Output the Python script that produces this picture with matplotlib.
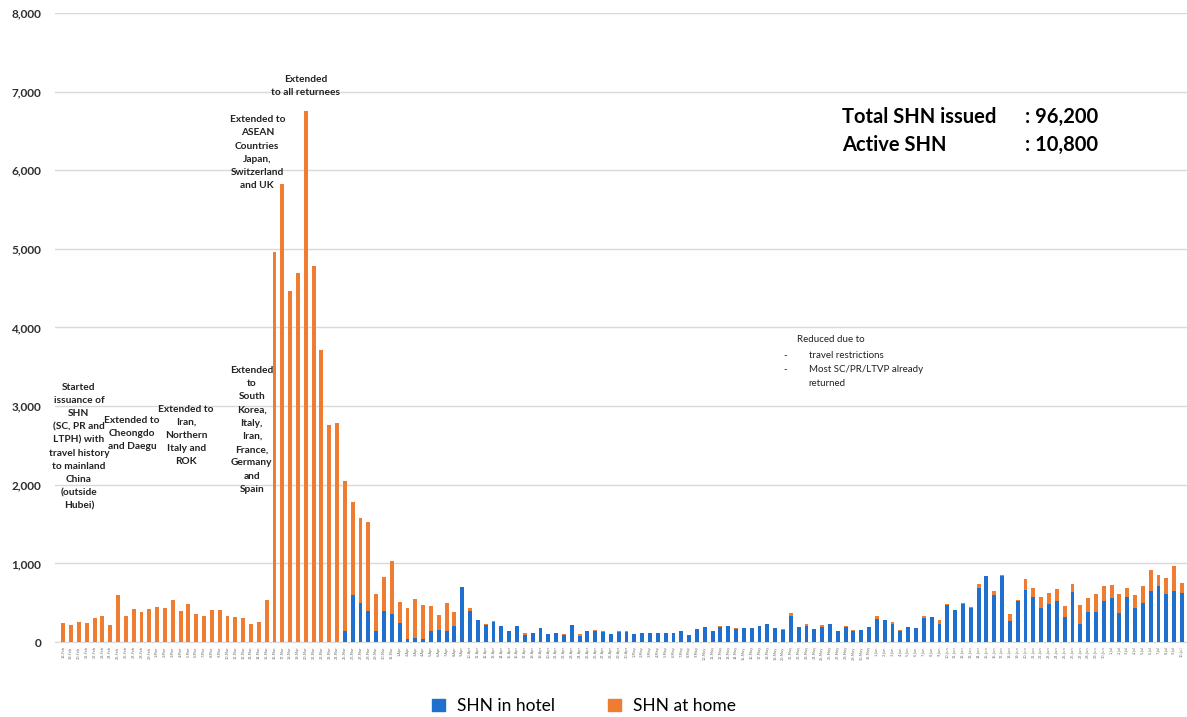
import numpy as np
import pandas as pd
import matplotlib
matplotlib.use("Agg")
import matplotlib.pyplot as plt
from matplotlib.patches import Patch

# daily SHN issued, 18 Feb - 10 Jul 2020
start_date = "2020-02-18"
end_date = "2020-07-10"

total_shn = [
    245, 212, 255, 245, 310, 335, 215, 603, 335, 414,
    387, 425, 442, 432, 528, 390, 487, 356, 326, 404,
    404, 326, 318, 303, 228, 250, 528, 4960, 5820, 4470,
    4690, 6750, 4785, 3715, 2760, 2780, 2046, 1780, 1576, 1520,
    615, 833, 1033, 503, 437, 541, 466, 462, 342, 491,
    385, 697, 432, 274, 231, 265, 201, 141, 201, 115,
    120, 184, 107, 120, 103, 222, 103, 145, 154, 137,
    103, 145, 141, 103, 120, 120, 111, 118, 115, 137,
    94, 171, 197, 137, 205, 209, 180, 175, 184, 201,
    231, 184, 165, 365, 190, 230, 160, 210, 230, 140,
    205, 150, 155, 195, 330, 283, 252, 152, 195, 178,
    328, 318, 283, 485, 402, 500, 440, 737, 835, 650,
    848, 360, 534, 797, 684, 577, 620, 675, 457, 735,
    470, 560, 611, 714, 731, 615, 692, 598, 714, 915,
    846, 816, 962, 756,
]

shn_hotel = [
    0, 0, 0, 0, 0, 0, 0, 0, 0, 0,
    0, 0, 0, 0, 0, 0, 0, 0, 0, 0,
    0, 0, 0, 0, 0, 0, 0, 0, 0, 0,
    0, 0, 0, 0, 0, 0, 145, 597, 490, 392,
    144, 393, 352, 238, 36, 49, 35, 141, 158, 141,
    209, 697, 393, 274, 222, 256, 201, 141, 201, 85,
    120, 184, 107, 115, 85, 222, 81, 137, 141, 124,
    103, 132, 128, 103, 113, 111, 111, 112, 115, 137,
    94, 171, 197, 137, 195, 209, 170, 175, 184, 201,
    231, 184, 155, 330, 190, 206, 160, 190, 230, 140,
    190, 140, 155, 195, 290, 283, 232, 137, 195, 178,
    302, 318, 230, 465, 402, 486, 428, 685, 835, 600,
    835, 272, 517, 662, 577, 432, 483, 526, 316, 641,
    235, 376, 376, 521, 560, 372, 577, 436, 491, 654,
    718, 615, 654, 628,
]

dates = pd.date_range(start_date, end_date, freq="D")
date_labels = [f"{d.day}-{d.strftime('%b')}" for d in dates]

hotel = np.array(shn_hotel)
home = np.array(total_shn) - hotel

blue = "#1f6fcf"
orange = "#ef7d31"
font = "Lato"

fig = plt.figure(figsize=(11.87, 7.17), dpi=100)
ax = fig.add_axes([0.0463, 0.1046, 0.9537, 0.8773])

x = np.arange(len(dates))
ax.bar(x, hotel, width=0.5, color=blue, zorder=3)
ax.bar(x, home, width=0.5, bottom=hotel, color=orange, zorder=3)

ax.set_xlim(-1.06, len(dates) - 1 + 0.64)
ax.set_ylim(0, 8000)
ax.set_yticks(np.arange(0, 8001, 1000))
ax.set_yticklabels([f"{v:,}" for v in range(0, 8001, 1000)],
                   fontsize=8.5, fontweight="bold", family=font, color="#303030")
ax.set_xticks(x)
ax.set_xticklabels(date_labels, rotation=90, fontsize=2.6, color="#707070")
ax.tick_params(length=0, pad=3)
ax.tick_params(axis="y", pad=10)
ax.grid(axis="y", color="#d9d9d9", lw=1, zorder=0)
for s in ["top", "right", "left"]:
    ax.spines[s].set_visible(False)
ax.spines["bottom"].set_color("#d9d9d9")

# policy annotations
note = dict(ha="center", va="top", fontsize=7.3, fontweight="bold",
            family=font, color="#222222", linespacing=1.6)
ax.text(2.0, 3300, "Started\nissuance of\nSHN\n(SC, PR and\nLTPH) with\ntravel history\n"
        "to mainland\nChina\n(outside\nHubei)", **note)
ax.text(8.8, 2880, "Extended to\nCheongdo\nand Daegu", **note)
ax.text(15.7, 3020, "Extended to\nIran,\nNorthern\nItaly and\nROK", **note)
ax.text(24.1, 3510, "Extended\nto\nSouth\nKorea,\nItaly,\nIran,\nFrance,\nGermany\nand\nSpain", **note)
ax.text(24.8, 6700, "Extended to\nASEAN\nCountries\nJapan,\nSwitzerland\nand UK", **note)
ax.text(31.0, 7210, "Extended\nto all returnees", **note)

small = dict(ha="left", va="center", fontsize=7.0, family=font, color="#222222")
ax.text(93.8, 3842, "Reduced due to", **small)
ax.text(92.0, 3640, "-", **small)
ax.text(95.3, 3640, "travel restrictions", **small)
ax.text(92.0, 3460, "-", **small)
ax.text(95.3, 3460, "Most SC/PR/LTVP already", **small)
ax.text(95.3, 3285, "returned", **small)

big = dict(ha="left", va="center", fontsize=14.5, fontweight="bold", family=font, color="black")
ax.text(99.6, 6680, "Total SHN issued", **big)
ax.text(122.9, 6680, ": 96,200", **big)
ax.text(99.6, 6323, "Active SHN", **big)
ax.text(122.9, 6323, ": 10,800", **big)

handles = [Patch(color=blue, label="SHN in hotel"), Patch(color=orange, label="SHN at home")]
fig.legend(handles=handles, loc="center", bbox_to_anchor=(0.492, 0.0153), ncol=2,
           frameon=False, prop={"family": font, "size": 12.5},
           handlelength=0.75, handleheight=0.75, handletextpad=0.7, columnspacing=3.0)

fig.savefig("out.png", dpi=100)
